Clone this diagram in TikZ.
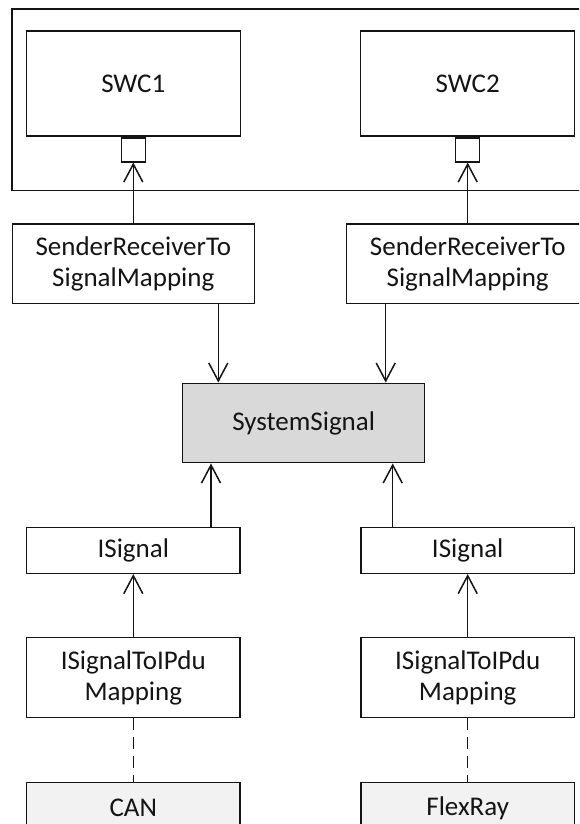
\documentclass[tikz,border=0pt]{standalone}
\usepackage{fontspec}
\setmainfont{Carlito}
\usetikzlibrary{arrows.meta,calc}
\definecolor{ink}{HTML}{141414}
\definecolor{sysgray}{HTML}{D9D9D9}
\definecolor{busgray}{HTML}{F2F2F2}

\begin{document}
\begin{tikzpicture}[x=1pt,y=-1pt,line width=1.5pt,draw=ink,text=ink,
    box/.style={draw,align=center,inner sep=0pt,
      font=\fontsize{27}{31}\selectfont},
    arr/.style={-{Straight Barb[length=18pt,width=19pt]}},
    dashlink/.style={dash pattern=on 12pt off 7pt}]
  \useasboundingbox (0,0) rectangle (579,824);
  \clip (0,0) rectangle (579,824);
  \draw (12,9) rectangle (620,190.3);
  \node[box,fill=sysgray,minimum width=242,minimum height=79.4]
    (sys) at (303.7,423) {SystemSignal};
  \foreach \i/\cx/\bus in {1/133.3/CAN,2/467.7/FlexRay}{
    \node[box,minimum width=214,minimum height=105.3] (swc\i) at (\cx,83.6) {SWC\i};
    \node[draw,minimum size=24,inner sep=0pt,anchor=north] (port\i) at (swc\i.south) {};
    \node[box,minimum width=242,minimum height=79.3] (srmap\i) at (\cx,263.7)
      {SenderReceiverTo\\SignalMapping};
    \node[box,minimum width=213.3,minimum height=46] (isig\i) at (\cx,550.3) {ISignal};
    \node[box,minimum width=213.3,minimum height=79.6] (ipdu\i) at (\cx,677.5)
      {ISignalToIPdu\\Mapping};
    \node[box,fill=busgray,minimum width=213.3,minimum height=52] (bus\i) at (\cx,808.3) {\bus};
    \draw[arr] (srmap\i.north) -- (port\i.south);
    \draw[arr] (ipdu\i.north) -- (isig\i.south);
    \draw[dashlink] (ipdu\i.south) -- (bus\i.north);
  }
  \draw[arr] ([xshift=85]srmap1.south) -- ([xshift=85]srmap1.south |- sys.north);
  \draw[arr] ([xshift=-82]srmap2.south) -- ([xshift=-82]srmap2.south |- sys.north);
  \draw[arr] ([xshift=77.7]isig1.north) -- ([xshift=77.7]isig1.north |- sys.south);
  \draw[arr] ([xshift=-75]isig2.north) -- ([xshift=-75]isig2.north |- sys.south);
\end{tikzpicture}
\end{document}
